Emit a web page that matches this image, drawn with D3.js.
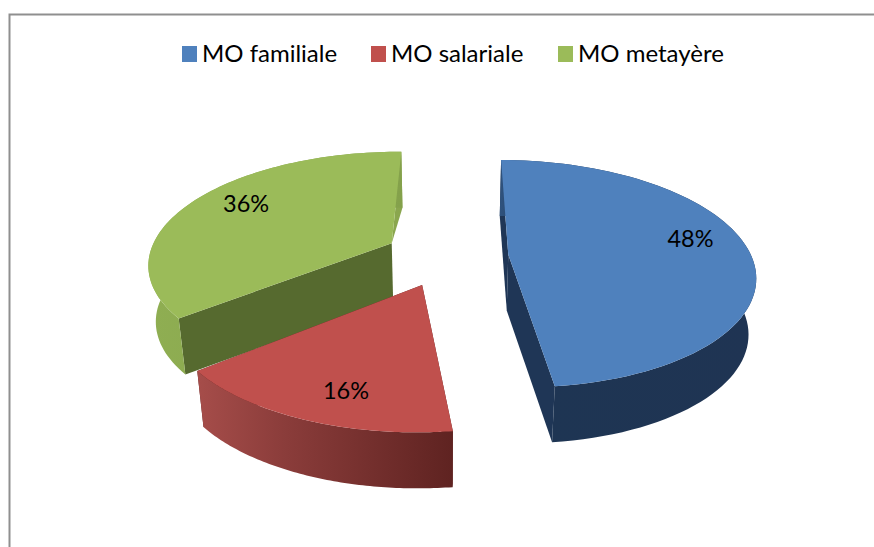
<!DOCTYPE html>
<html><head><meta charset="utf-8">
<script src="https://cdn.jsdelivr.net/npm/d3@7"></script>
<style>html,body{margin:0;padding:0;background:#fff}svg{display:block}text{font-family:Lato,"Open Sans",sans-serif;fill:#000}</style>
</head><body><div id="c"></div>
<script>
const categories = ["MO familiale", "MO salariale", "MO metayère"];
const shares = [48, 16, 36];
const colors = ["#4f81bd", "#c0504d", "#9bbb59"];
const cutColors = ["#1f3656", "#5c2322", "#566a2f"];
const backCutColors = ["#1f3656", "#5c2322", "#8aa64e"];
const wallStops = [
  [["#2f527d",0],["#1e3553",0.18],["#1f3453",1]],
  [["#a64d4a",0],["#8a3c3a",0.35],["#5f2321",1]],
  [["#8fae52",0],["#84a14b",1]]
];
const labelFrac = [0.79, 0.795, 0.775];
const labelTurn = [-7.5, -4, 5];

const W = 874, H = 547;
const svg = d3.select("#c").append("svg").attr("width", W).attr("height", H);
const defs = svg.append("defs");

// chart frame (top and left edges visible)
svg.append("path").attr("d", "M9.5,547V14.5H874").attr("fill", "none").attr("stroke", "#8f8f8f").attr("stroke-width", 2);

// legend
const legendX = d3.scaleOrdinal().domain(categories).range([182, 371, 558]);
const lg = svg.append("g").selectAll("g").data(categories).join("g")
  .attr("transform", d => `translate(${legendX(d)},46)`);
lg.append("rect").attr("width", 15).attr("height", 16).attr("fill", (d,i) => colors[i]);
lg.append("text").attr("x", 20).attr("y", 16).attr("font-size", 24).text(d => d);

// 3-D exploded pie: angles from d3.pie, then a perspective projection
const startDeg = 0.5;
const pie = d3.pie().sort(null).value(d => d)
  .startAngle(startDeg * Math.PI / 180).endAngle((startDeg + 360) * Math.PI / 180);
const arcs = pie(shares);
const R = 243, explode = 62, explodeV = 1.06, cx = 446.5, cy = 256, tilt = 0.457, persp = 0.17, depth = 56, depthScale = 0.975;

function project(a, r, off, low) {
  const U = off.u + r * R * Math.sin(a);
  const V = off.v - r * R * Math.cos(a);
  const s = 1 / (1 - persp * V / R);
  let x = cx + U * s, y = cy + V * tilt * s;
  if (low) { x = cx + (x - cx) * depthScale; y += depth; }
  return [x, y];
}
const line = d3.line();
const slices = arcs.map((d, i) => {
  const mid = (d.startAngle + d.endAngle) / 2;
  const off = { u: explode * Math.sin(mid), v: -explode * explodeV * Math.cos(mid) };
  const n = 80;
  const ang = d3.range(n + 1).map(k => d.startAngle + (d.endAngle - d.startAngle) * k / n);
  return { d, i, mid, off, ang };
});

slices.slice().sort((a, b) => (a.i === 2 ? -1 : b.i === 2 ? 1 : b.i - a.i)).forEach(s => {
  const g = svg.append("g");
  const { i, off, ang } = s;
  const apexT = project(0, 0, off, false), apexB = project(0, 0, off, true);
  const outerT = ang.map(a => project(a, 1, off, false));
  const outerB = ang.map(a => project(a, 1, off, true));
  const xs = outerT.concat(outerB).map(p => p[0]);
  const gid = "wall" + i;
  const grad = defs.append("linearGradient").attr("id", gid).attr("gradientUnits", "userSpaceOnUse")
    .attr("x1", d3.min(xs)).attr("x2", d3.max(xs)).attr("y1", 0).attr("y2", 0);
  wallStops[i].forEach(st => grad.append("stop").attr("offset", st[1]).attr("stop-color", st[0]));

  const last = ang.length - 1;
  // far cut faces
  if (i === 2) {
    g.append("path").attr("d", line([apexT, outerT[last], outerB[last]]) + "Z").attr("fill", backCutColors[i]);
    g.append("path").attr("d", line([apexT, outerT[0], outerB[0], apexB]) + "Z").attr("fill", cutColors[i]);
  } else {
    g.append("path").attr("d", line([apexT, outerT[0], outerB[0], apexB]) + "Z").attr("fill", cutColors[i]);
    g.append("path").attr("d", line([apexT, outerT[last], outerB[last], apexB]) + "Z").attr("fill", cutColors[i]);
  }
  // outer wall
  g.append("path").attr("d", line(outerT.concat(outerB.slice().reverse())) + "Z").attr("fill", `url(#${gid})`);
  // top
  g.append("path").attr("d", line([apexT].concat(outerT)) + "Z").attr("fill", colors[i]);
});

// percentage labels
const labelPos = s => project(s.mid + labelTurn[s.i] * Math.PI / 180, labelFrac[s.i], s.off, false);
svg.append("g").selectAll("text").data(slices).join("text")
  .attr("text-anchor", "middle").attr("font-size", 23.5)
  .attr("x", s => labelPos(s)[0])
  .attr("y", s => labelPos(s)[1] + 8)
  .text(s => s.d.value + "%");
</script></body></html>
